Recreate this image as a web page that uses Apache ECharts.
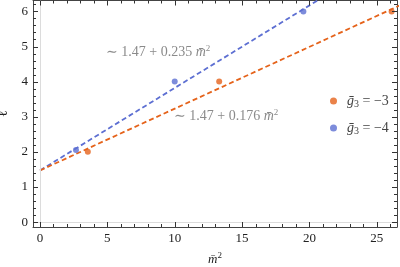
<!DOCTYPE html>
<html><head><meta charset="utf-8">
<script src="https://cdn.jsdelivr.net/npm/echarts@6/dist/echarts.min.js"></script>
<style>html,body{margin:0;padding:0;background:#fff}#c{width:400px;height:267px}</style>
</head><body><div id="c"></div>
<script>
// Data
const seriesNames = ['g3 = -3', 'g3 = -4'];
const seriesLegend = ['{i|ḡ}{s|3} = −3', '{i|ḡ}{s|3} = −4'];
const orangeX = [3.55, 13.3, 26.1];
const orangeY = [2.0, 4.0, 6.0];
const blueX = [2.67, 10.0, 19.55];
const blueY = [2.05, 4.0, 6.0];
const fitIntercept = [1.47, 1.47];
const fitSlope = [0.176, 0.235];
const fitLabels = ['0.176', '0.235'];
const fitRange = [0, 27];
const xMajorTicks = [0, 5, 10, 15, 20, 25];
const yMajorTicks = [0, 1, 2, 3, 4, 5, 6];
const xRange = [-0.52, 26.5];
const yRange = [-0.14, 6.31];

const xMinorTicks = [];
for (let v = 0; v <= 26; v += 1) if (!xMajorTicks.includes(v)) xMinorTicks.push(v);
const yMinorTicks = [];
for (let k = 0; k <= 31; k++) { const v = +(k * 0.2).toFixed(1); if (!yMajorTicks.includes(v)) yMinorTicks.push(v); }

const ORANGE = '#e5631b', BLUE = '#5d6fd2', FRAME = '#444', TICK = '#333', SERIF = '"Liberation Serif","DejaVu Serif",serif';

const lbl = (ticks) => ({ show: true, customValues: ticks, margin: 5, color: '#222', fontFamily: SERIF, fontSize: 13 });
const xAxes = [
  { type: 'value', position: 'bottom', min: xRange[0], max: xRange[1],
    axisLine: { show: true, onZero: false, lineStyle: { color: FRAME } }, axisTick: { show: false },
    axisLabel: lbl(xMajorTicks), splitLine: { show: false },
    name: '{i|m̄}{s|2}', nameLocation: 'middle', nameGap: 24,
    nameTextStyle: { fontFamily: SERIF, color: '#222', rich: { i: { fontFamily: SERIF, fontStyle: 'italic', fontSize: 13, color: '#222' }, s: { fontFamily: SERIF, fontSize: 9, verticalAlign: 'top', padding: [0, 0, 8, 0], color: '#222' } } } },
  { type: 'value', position: 'top', min: xRange[0], max: xRange[1],
    axisLine: { show: true, onZero: false, lineStyle: { color: FRAME } }, axisTick: { show: false },
    axisLabel: { show: false }, splitLine: { show: false } }
];
const yAxes = [
  { type: 'value', position: 'left', min: yRange[0], max: yRange[1],
    axisLine: { show: true, onZero: false, lineStyle: { color: FRAME } }, axisTick: { show: false },
    axisLabel: lbl(yMajorTicks), splitLine: { show: false },
    name: 'ℓ', nameLocation: 'middle', nameRotate: 90, nameGap: 19,
    nameTextStyle: { fontFamily: SERIF, fontSize: 14, color: '#222' } },
  { type: 'value', position: 'right', min: yRange[0], max: yRange[1],
    axisLine: { show: true, onZero: false, lineStyle: { color: FRAME } }, axisTick: { show: false },
    axisLabel: { show: false }, splitLine: { show: false } }
];

function fitLine(i) {
  return fitRange.map(x => [x, fitIntercept[i] + fitSlope[i] * x]);
}

// frame ticks: [value, isX, length]
const tickData = [];
xMajorTicks.forEach(v => tickData.push([v, 1, 5]));
xMinorTicks.forEach(v => tickData.push([v, 1, 3]));
yMajorTicks.forEach(v => tickData.push([v, 0, 5]));
yMinorTicks.forEach(v => tickData.push([v, 0, 3]));

function renderTick(params, api) {
  const v = api.value(0), isX = api.value(1) === 1, len = api.value(2);
  const st = { stroke: TICK, fill: null, lineWidth: 1 };
  let pts;
  if (isX) {
    const b = api.coord([v, yRange[0]]), t = api.coord([v, yRange[1]]);
    const x = Math.round(b[0]) + 0.5;
    pts = [[x, b[1], x, b[1] - len], [x, t[1], x, t[1] + len]];
  } else {
    const l = api.coord([xRange[0], v]), r = api.coord([xRange[1], v]);
    const y = Math.round(l[1]) + 0.5;
    pts = [[l[0], y, l[0] + len, y], [r[0], y, r[0] - len, y]];
  }
  return { type: 'group', children: pts.map(p => ({ type: 'line', shape: { x1: p[0], y1: p[1], x2: p[2], y2: p[3] }, style: st })) };
}

const richText = { i: { fontFamily: SERIF, fontStyle: 'italic', fontSize: 14, fill: '#8a8a8a' }, s: { fontFamily: SERIF, fontSize: 9, fill: '#8a8a8a', verticalAlign: 'top', padding: [0, 0, 8, 0] } };

const option = {
  animation: false,
  grid: { left: 33, right: 3, top: 0.5, bottom: 40, containLabel: false, outerBoundsMode: 'none' },
  xAxis: xAxes,
  yAxis: yAxes,
  legend: {
    orient: 'vertical', left: 325, top: 89, itemGap: 12, itemWidth: 7, itemHeight: 7, icon: 'circle',
    data: seriesNames,
    formatter: n => seriesLegend[seriesNames.indexOf(n)],
    textStyle: { fontFamily: SERIF, fontSize: 14, color: '#444', padding: [0, 0, 0, 5],
      rich: { i: { fontFamily: SERIF, fontStyle: 'italic', fontSize: 14, color: '#444' }, s: { fontFamily: SERIF, fontSize: 10, color: '#444', verticalAlign: 'bottom', padding: [6, 0, 0, 0] } } }
  },
  series: [
    { type: 'custom', name: 'ticks', coordinateSystem: 'cartesian2d', xAxisIndex: 0, yAxisIndex: 0,
      data: tickData, renderItem: renderTick, silent: true, clip: false, z: 10,
      encode: { x: 0, y: 1 } },
    { type: 'line', name: 'fitB', data: fitLine(1), showSymbol: false, clip: true, silent: true,
      lineStyle: { color: BLUE, width: 1.8, type: [5, 3] }, z: 3,
      markLine: { silent: true, symbol: 'none', label: { show: false },
        lineStyle: { color: '#dcdcdc', width: 1, type: 'solid' }, data: [{ xAxis: 0 }, { yAxis: 0 }] } },
    { type: 'line', name: 'fitO', data: fitLine(0), showSymbol: false, clip: true, silent: true,
      lineStyle: { color: ORANGE, width: 1.8, type: [5, 3] }, z: 3 },
    { type: 'scatter', name: seriesNames[0], data: orangeX.map((x, k) => [x, orangeY[k]]), symbolSize: 6,
      itemStyle: { color: ORANGE }, z: 4 },
    { type: 'scatter', name: seriesNames[1], data: blueX.map((x, k) => [x, blueY[k]]), symbolSize: 6,
      itemStyle: { color: BLUE }, z: 4 }
  ],
  graphic: [
    { type: 'text', left: 106, top: 44, style: { text: '∼ 1.47 + ' + fitLabels[1] + ' {i|m̄}{s|2}', font: '14px ' + SERIF, fill: '#8a8a8a', rich: richText } },
    { type: 'text', left: 174, top: 108, style: { text: '∼ 1.47 + ' + fitLabels[0] + ' {i|m̄}{s|2}', font: '14px ' + SERIF, fill: '#8a8a8a', rich: richText } }
  ]
};
const chart = echarts.init(document.getElementById('c'), null, { renderer: 'canvas' });
chart.setOption(option);
</script></body></html>
